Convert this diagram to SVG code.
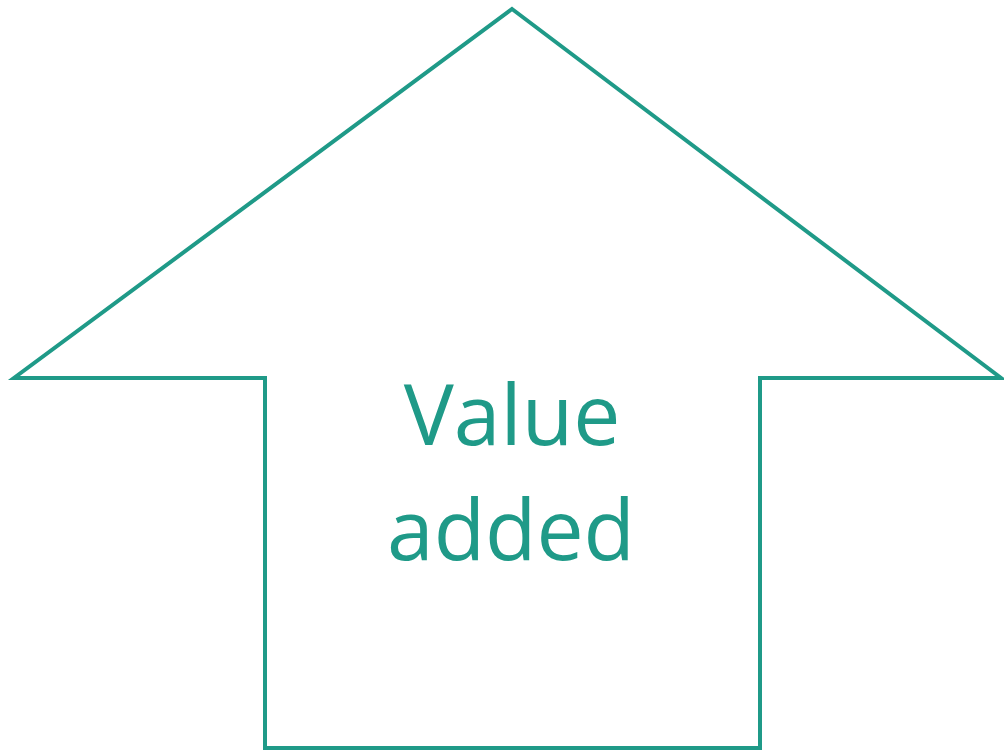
<svg xmlns="http://www.w3.org/2000/svg" width="1004" height="752" viewBox="0 0 1004 752">
<style>
.shape{fill:#ffffff;stroke:#1f9a88;stroke-width:4;stroke-linejoin:miter}
.lbl{font-family:"Open Sans","Noto Sans",sans-serif;font-size:84px;fill:#1f9a88;text-anchor:middle}
</style>
<rect width="1004" height="752" fill="#ffffff"/>
<g id="arrow">
<polygon class="shape" points="512,9 1001,378 760,378 760,748 265,748 265,378 14,378"/>
<text class="lbl" x="512" y="445">Value</text>
<text class="lbl" x="511" y="560">added</text>
</g>
</svg>
